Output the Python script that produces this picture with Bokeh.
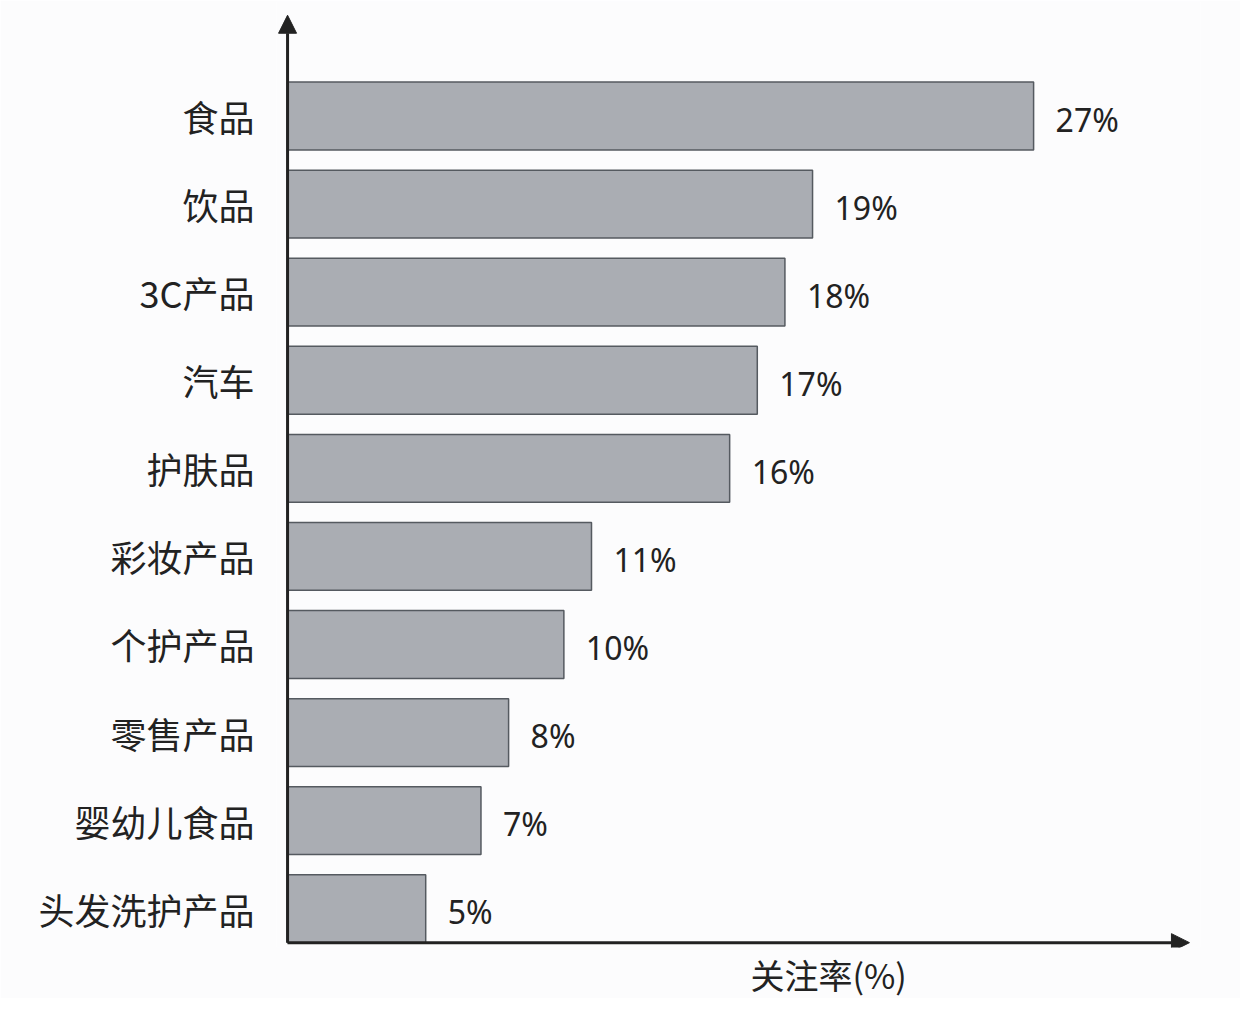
from bokeh.plotting import figure
from bokeh.models import Range1d, Arrow, NormalHead, Title, ColumnDataSource, FixedTicker
from bokeh.embed import file_html
from bokeh.resources import INLINE

categories = ["食品", "饮品", "3C产品", "汽车", "护肤品", "彩妆产品", "个护产品", "零售产品", "婴幼儿食品", "头发洗护产品"]
values = [27, 19, 18, 17, 16, 11, 10, 8, 7, 5]
axis_title = "关注率(%)"

n = len(categories)
ypos = [n - 1 - i for i in range(n)]
labels = [str(v) + "%" for v in values]

src = ColumnDataSource(data=dict(y=ypos, v=values, lab=labels, cat=categories))

bar_h = 0.77
x0, x1 = -0.4, 33.04
y_axis = -bar_h / 2          # x axis sits on the bottom of the last bar
y0, y1 = y_axis - 0.055, n - 1 + 1.3

p = figure(width=1240, height=998, output_backend="svg", toolbar_location=None,
           x_range=Range1d(x0, x1), y_range=Range1d(y0, y1),
           min_border_left=276, min_border_right=40, min_border_top=1, min_border_bottom=49)
p.outline_line_color = None
p.background_fill_color = "#fcfcfd"
p.border_fill_color = "#fcfcfd"
p.xgrid.visible = False
p.ygrid.visible = False
p.xaxis.visible = False

p.yaxis.ticker = FixedTicker(ticks=ypos)
p.yaxis.major_label_overrides = {y: c for y, c in zip(ypos, categories)}
p.yaxis.axis_line_color = None
p.yaxis.major_tick_line_color = None
p.yaxis.minor_tick_line_color = None
p.yaxis.major_label_standoff = 16
p.yaxis.major_label_text_font = "Noto Sans CJK SC"
p.yaxis.major_label_text_font_size = "36px"
p.yaxis.major_label_text_color = "#222222"

p.hbar(y="y", left=0, right="v", height=bar_h, source=src,
       fill_color="#aaadb3", line_color="#555a60", line_width=1.5)

p.text(x="v", y="y", text="lab", source=src, x_offset=22, y_offset=3,
       text_baseline="middle", text_align="left",
       text_font_size="32px", text_color="#222222", text_font={"value": "Noto Sans"})

# axes drawn as arrows
head = dict(size=18, fill_color="#222222", line_color="#222222")
p.add_layout(Arrow(end=NormalHead(**head), x_start=0, y_start=y_axis, x_end=x1 - 0.4, y_end=y_axis,
                   line_color="#222222", line_width=3))
p.add_layout(Arrow(end=NormalHead(**head), x_start=0, y_start=y_axis, x_end=0, y_end=n - 1 + 1.144,
                   line_color="#222222", line_width=3))

p.add_layout(Title(text=axis_title, align="left", offset=474, text_font="Noto Sans CJK SC",
                   text_font_size="34px", text_font_style="normal", text_color="#222222",
                   standoff=0), "below")

open("out.html", "w").write(file_html(p, INLINE))
